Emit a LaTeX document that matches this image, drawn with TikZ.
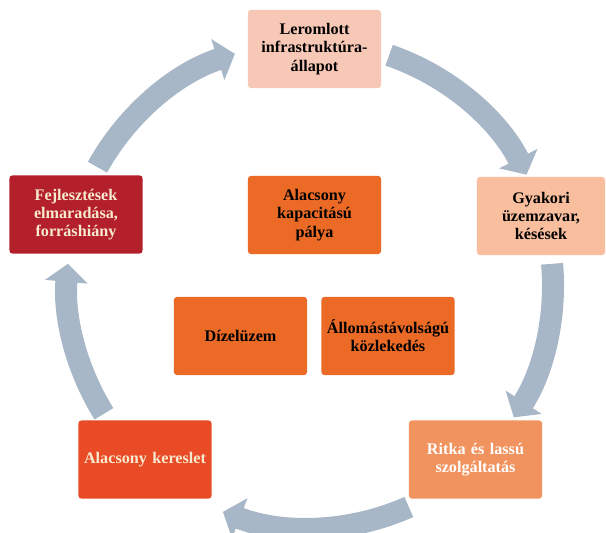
\documentclass[tikz,border=0pt]{standalone}
\usepackage{fontspec}
\setmainfont{Liberation Serif}
\usepackage{tikz}
\usetikzlibrary{arrows.meta, positioning}

\definecolor{boxA}{HTML}{F8C8B6}
\definecolor{boxB}{HTML}{F8BE9E}
\definecolor{boxC}{HTML}{F1935E}
\definecolor{boxD}{HTML}{E84B25}
\definecolor{boxE}{HTML}{B31F2A}
\definecolor{core}{HTML}{EA6A26}
\definecolor{ring}{HTML}{A8B7C7}
\definecolor{cream}{HTML}{F8EAD0}

\begin{document}
\begin{tikzpicture}[x=0.025cm,y=0.025cm,
 cycle box/.style={rectangle,rounded corners=2pt,minimum width=3.325cm,
   minimum height=1.95cm,text width=3.05cm,align=center,
   font=\fontsize{11.5}{13}\selectfont\bfseries},
 core box/.style={cycle box,fill=core,text=black},
 ring arrow/.style={ring,line width=0.55cm,-{Triangle[length=0.45cm,width=1.05cm]}}]

  \useasboundingbox (0,0) rectangle (606,533);
  \coordinate (c) at (310,248);

  \node[cycle box,fill=boxA] (lerom) at (314.5,484) {Leromlott\\infrastruktúra-\\állapot};
  \node[cycle box,fill=boxB,minimum width=3.2cm,text width=2.9cm] (gyak) at (541,317) {Gyakori\\üzemzavar,\\késések};
  \node[cycle box,fill=boxC,text=white] (ritka) at (475.5,73.5) {Ritka és lassú\\szolgáltatás};
  \node[cycle box,fill=boxD,text=cream] (keres) at (145,73.5) {Alacsony kereslet};
  \node[cycle box,fill=boxE,text=cream] (fejl) at (76,318.5) {Fejlesztések\\elmaradása,\\forráshiány};

  \node[core box] (kapac) at (314.5,318) {Alacsony\\kapacitású\\pálya};
  \node[core box] (dizel) at (240.5,197) {Dízelüzem};
  \node[core box] (allom) at (388,197) {Állomástávolságú\\közlekedés};

  \foreach \s/\t in {71/27, 5/-33, -66/-111, -148/-185, 151/108} {
   \draw[ring arrow] (c) ++(\s:243) arc[start angle=\s, end angle=\t, radius=243];}

\end{tikzpicture}
\end{document}
